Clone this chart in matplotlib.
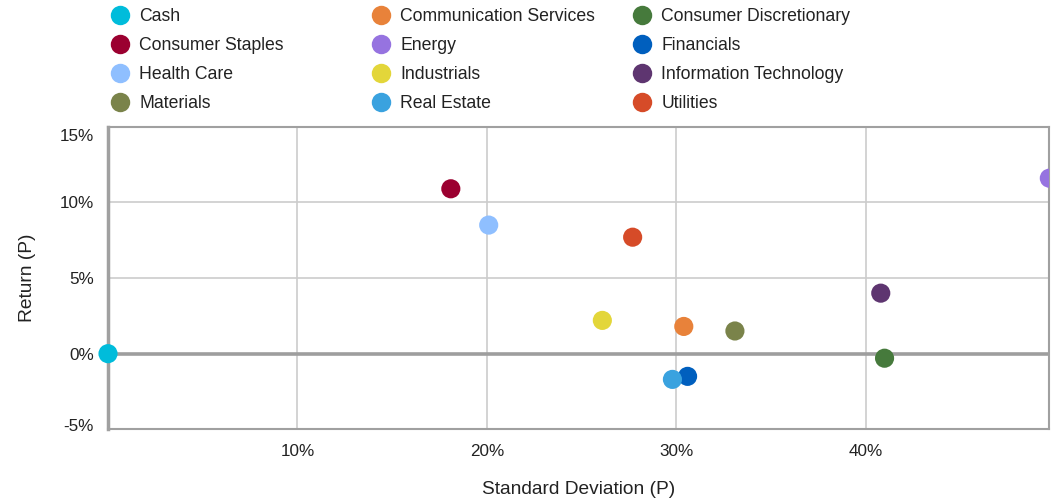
import matplotlib.pyplot as plt
import matplotlib.transforms as mtransforms
from matplotlib.lines import Line2D
from matplotlib.ticker import FuncFormatter

plt.rcParams['font.family'] = ['Liberation Sans', 'DejaVu Sans']

# sector risk / return (percent)
sectors = ["Cash", "Communication Services", "Consumer Discretionary",
           "Consumer Staples", "Energy", "Financials",
           "Health Care", "Industrials", "Information Technology",
           "Materials", "Real Estate", "Utilities"]
std_dev = [0.0, 30.4, 41.0, 18.1, 49.7, 30.6, 20.1, 26.1, 40.8, 33.1, 29.8, 27.7]
ret = [0.0, 1.8, -0.3, 10.9, 11.6, -1.5, 8.5, 2.2, 4.0, 1.5, -1.7, 7.7]
colors = ["#00BCDB", "#E8823A", "#467A3C", "#9B0030", "#9673E0", "#005FBE",
          "#8FBFFF", "#E3D63A", "#5E3570", "#7A834A", "#3AA2DF", "#D64B28"]

fig = plt.figure(figsize=(10.61, 5.03), dpi=100)
ax = fig.add_axes([0.1018, 0.1465, 0.989 - 0.1018, 0.748 - 0.1465])

for name, x, y, c in zip(sectors, std_dev, ret, colors):
    ax.scatter(x, y, s=190, color=c, edgecolors='none', zorder=5,
               clip_on=(x > 0), label=name)

ax.set_xlim(0, 49.7)
ax.set_ylim(-5, 15)
ax.set_xticks([10, 20, 30, 40])
ax.set_yticks([-5, 0, 5, 10, 15])
pct = FuncFormatter(lambda v, p: f"{v:.0f}%")
ax.xaxis.set_major_formatter(pct)
ax.yaxis.set_major_formatter(pct)
ax.tick_params(length=0, labelsize=12.3, colors='#222222')
ax.tick_params(axis='x', pad=10.5)
ax.tick_params(axis='y', pad=10)
ax.grid(True, color='#cccccc', linewidth=1.2)
ax.set_axisbelow(True)
ax.axhline(0, color='#9e9e9e', linewidth=2.6, zorder=2)

# outer y labels sit just inside the plot range
fig.canvas.draw()
ylabels = ax.get_yticklabels()
ylabels[-1].set_transform(ylabels[-1].get_transform() +
                          mtransforms.ScaledTranslation(0, -8 / 100, fig.dpi_scale_trans))
ylabels[0].set_transform(ylabels[0].get_transform() +
                         mtransforms.ScaledTranslation(0, 4 / 100, fig.dpi_scale_trans))

for side in ['top', 'right', 'bottom']:
    ax.spines[side].set_color('#a0a0a0')
    ax.spines[side].set_linewidth(1.5)
ax.spines['left'].set_color('#a0a0a0')
ax.spines['left'].set_linewidth(2.5)

ax.set_xlabel("Standard Deviation (P)", fontsize=13.8, color='#222222', labelpad=16)
ax.set_ylabel("Return (P)", fontsize=13.8, color='#222222', labelpad=17)

# legend: three columns laid out row by row
col_x = [117 / 1061, 378 / 1061, 639 / 1061]
for ci in range(3):
    handles = []
    for ri in range(4):
        i = ri * 3 + ci
        handles.append(Line2D([], [], marker='o', linestyle='none', markersize=14,
                              markerfacecolor=colors[i], markeredgecolor='none',
                              label=sectors[i]))
    fig.legend(handles=handles, loc='upper left',
               bbox_to_anchor=(col_x[ci] - 0.014, 1.0 + 0.002),
               frameon=False, fontsize=12.7, handletextpad=0.6,
               labelspacing=0.69, borderpad=0.0, handlelength=1.0,
               labelcolor='#222222')

fig.savefig("out.png", dpi=100)
